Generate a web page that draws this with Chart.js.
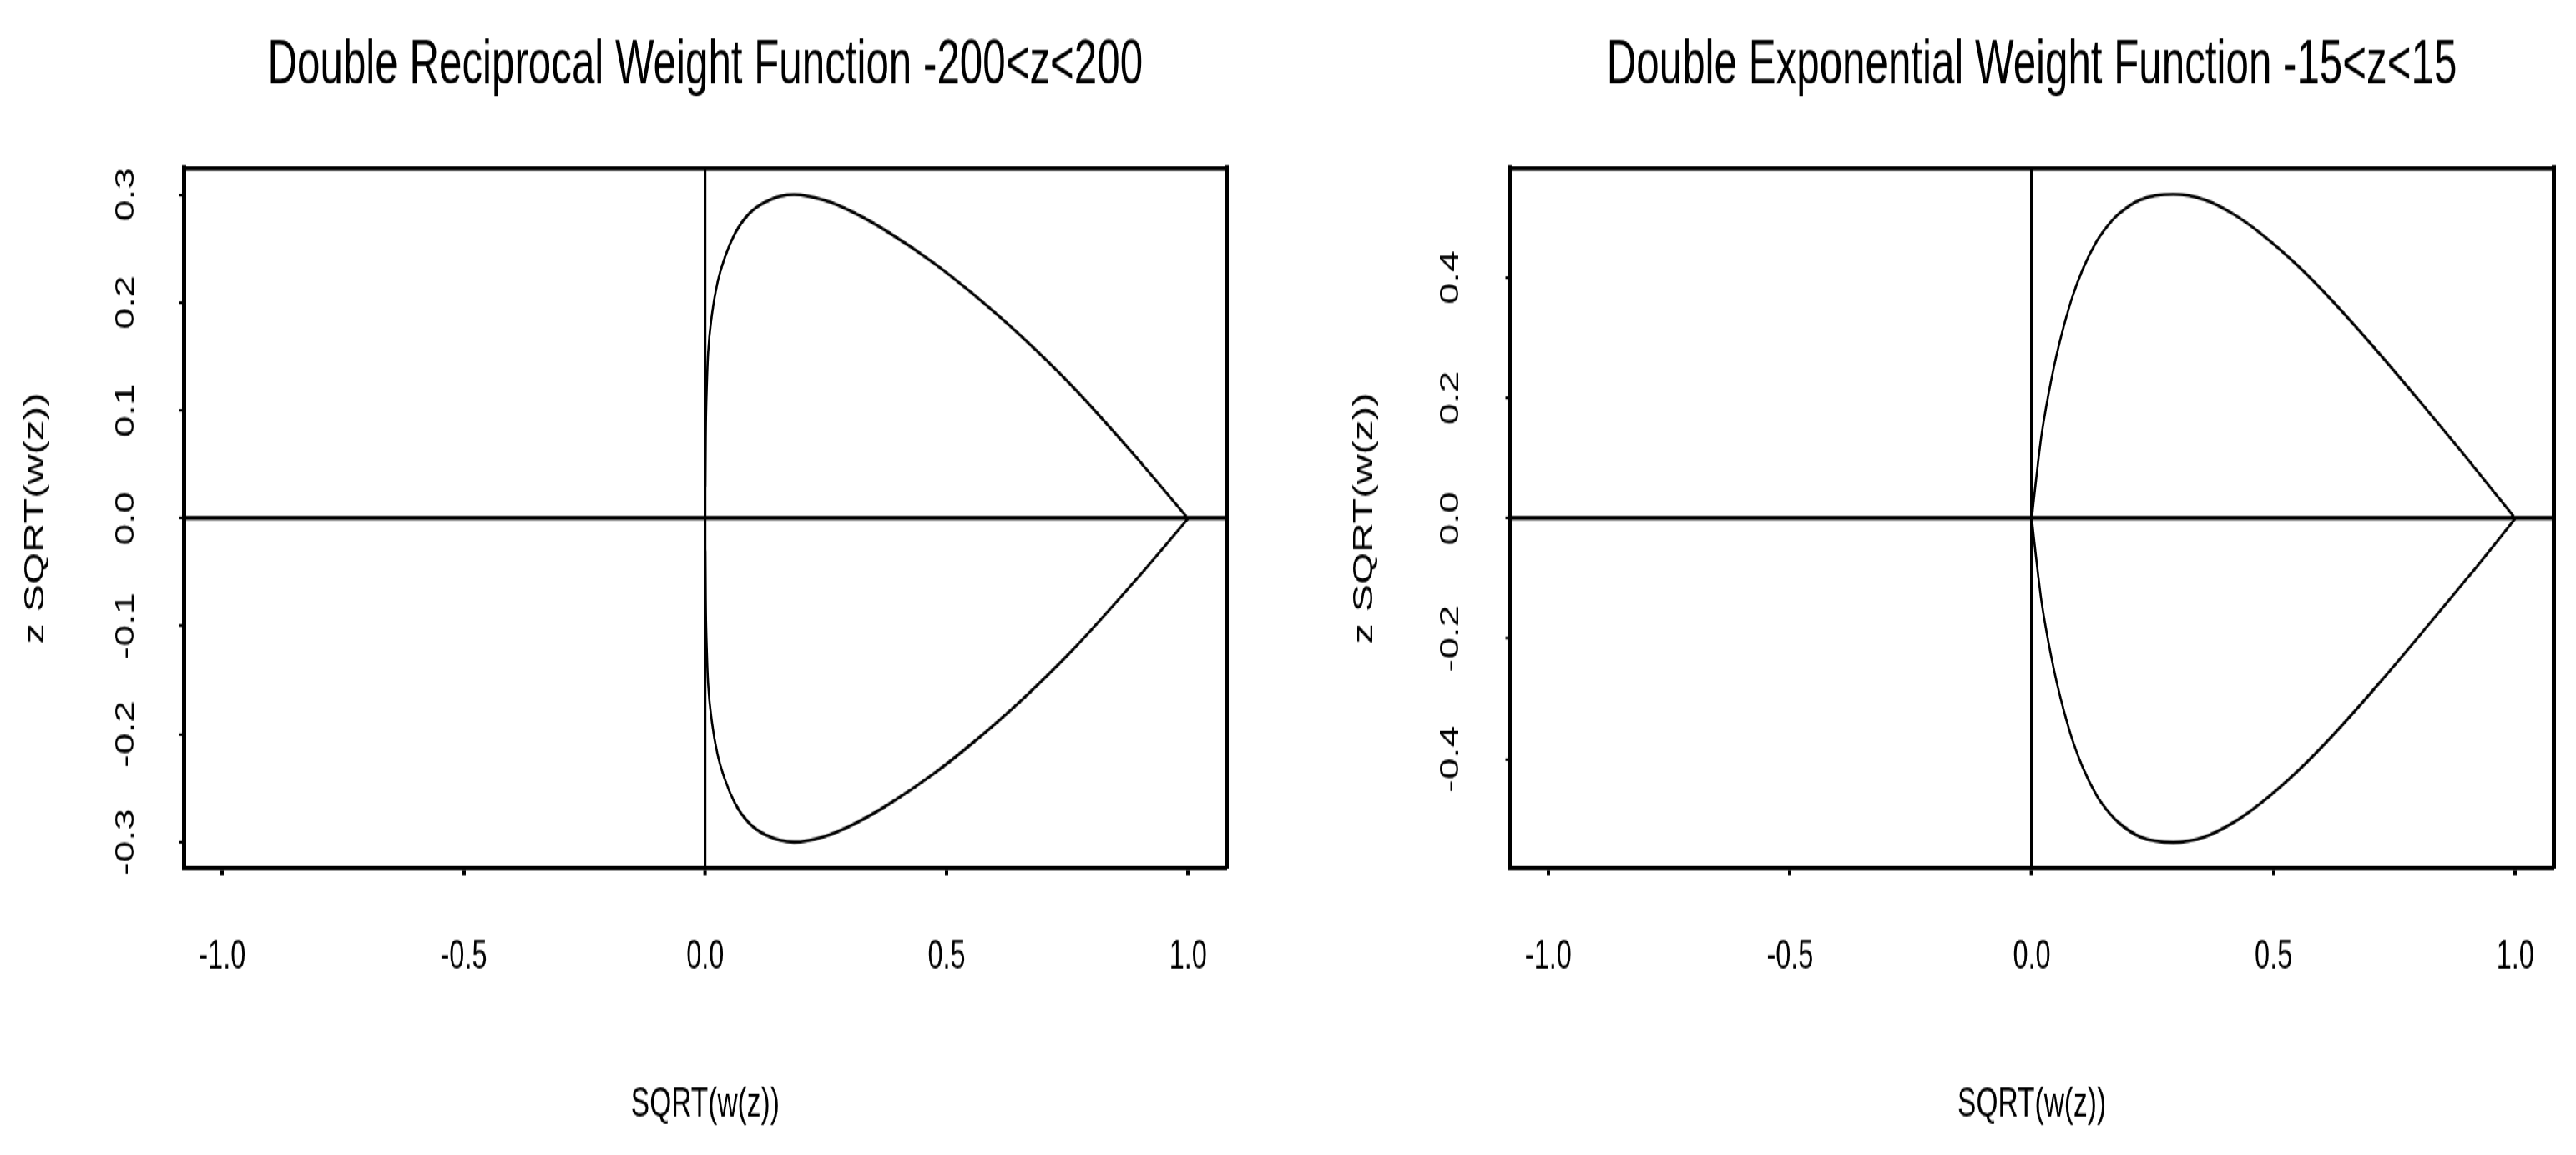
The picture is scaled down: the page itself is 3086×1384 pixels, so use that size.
<!DOCTYPE html>
<html>
<head>
<meta charset="utf-8">
<title>Weight functions</title>
<script src="https://cdn.jsdelivr.net/npm/chart.js@4.4.1/dist/chart.umd.min.js"></script>
<style>
  html, body { margin: 0; padding: 0; background: #ffffff; overflow: hidden; }
  #wrap { position: absolute; left: 0; top: 0; width: 3086px; height: 923px; transform-origin: 0 0; }
  #wrap canvas { position: absolute; top: 0; }
</style>
</head>
<body>
<div id="wrap">
  <canvas id="c1" width="1543" height="923" style="left:0px;width:1543px;height:923px"></canvas>
  <canvas id="c2" width="1543" height="923" style="left:1543px;width:1543px;height:923px"></canvas>
</div>
<script>
// ---------------- data ----------------
const xTickValues = [-1, -0.5, 0, 0.5, 1];
const xTickLabels = ['-1.0', '-0.5', '0.0', '0.5', '1.0'];
const xRange = [-1.08, 1.08];
const xAxisTitle = 'SQRT(w(z))';
const yAxisTitle = 'z SQRT(w(z))';

const recipTitle = 'Double Reciprocal Weight Function -200<z<200';
const recipYRange = [-0.324, 0.324];
const recipYTickValues = [-0.3, -0.2, -0.1, 0, 0.1, 0.2, 0.3];
const recipYTickLabels = ['-0.3', '-0.2', '-0.1', '0.0', '0.1', '0.2', '0.3'];
const recipUpperX = [0.0002, 0.001, 0.0036, 0.0060, 0.0140, 0.025, 0.040, 0.0615, 0.090, 0.127, 0.184, 0.249, 0.307, 0.380, 0.474, 0.553, 0.655, 0.760, 0.890, 1.000];
const recipUpperY = [0.030, 0.0755, 0.127, 0.153, 0.189, 0.2176, 0.241, 0.264, 0.282, 0.2938, 0.300, 0.2945, 0.2835, 0.2650, 0.2365, 0.2085, 0.1685, 0.1225, 0.058, 0.000];
const recipLowerX = [0.0002, 0.001, 0.0036, 0.0060, 0.0140, 0.025, 0.040, 0.0615, 0.090, 0.127, 0.184, 0.249, 0.307, 0.380, 0.474, 0.553, 0.655, 0.760, 0.890, 1.000];
const recipLowerY = [-0.030, -0.0755, -0.127, -0.153, -0.189, -0.2176, -0.241, -0.264, -0.282, -0.2938, -0.300, -0.2945, -0.2835, -0.2650, -0.2365, -0.2085, -0.1685, -0.1225, -0.058, -0.000];

const expTitle = 'Double Exponential Weight Function -15<z<15';
const expYRange = [-0.5805, 0.5805];
const expYTickValues = [-0.4, -0.2, 0, 0.2, 0.4];
const expYTickLabels = ['-0.4', '-0.2', '0.0', '0.2', '0.4'];
const expUpperX = [0.000, 0.0057, 0.0123, 0.0195, 0.0289, 0.0397, 0.0520, 0.0665, 0.0835, 0.105, 0.134, 0.160, 0.180, 0.224, 0.293, 0.358, 0.416, 0.4736, 0.553, 0.622, 0.7195, 0.817, 0.9075, 1.000];
const expUpperY = [0.000, 0.0426, 0.0889, 0.135, 0.1815, 0.2278, 0.274, 0.320, 0.3667, 0.413, 0.460, 0.489, 0.5055, 0.5288, 0.538, 0.5288, 0.5056, 0.473, 0.4174, 0.3608, 0.2730, 0.1804, 0.0926, 0.000];
const expLowerX = [0.000, 0.0057, 0.0123, 0.0195, 0.0289, 0.0397, 0.0520, 0.0665, 0.0835, 0.105, 0.134, 0.160, 0.180, 0.224, 0.293, 0.358, 0.416, 0.4736, 0.553, 0.622, 0.7195, 0.817, 0.9075, 1.000];
const expLowerY = [-0.000, -0.0426, -0.0889, -0.135, -0.1815, -0.2278, -0.274, -0.320, -0.3667, -0.413, -0.460, -0.489, -0.5055, -0.5288, -0.538, -0.5288, -0.5056, -0.473, -0.4174, -0.3608, -0.2730, -0.1804, -0.0926, -0.000];

// ---------------- presentation ----------------
const CANVAS_H = 923;
const STRETCH = 1384 / CANVAS_H;   // the original figure is stretched vertically
document.getElementById('wrap').style.transform = 'scaleY(' + STRETCH + ')';

const FONT = "'Liberation Sans', Arial, Helvetica, sans-serif";
const BLACK = '#000000';
const NONE = 'rgba(0,0,0,0)';

function pts(xs, ys) { return xs.map((x, i) => ({ x: x, y: ys[i] })); }

function makeChart(id, spec) {
  const L = spec.layout;
  return new Chart(document.getElementById(id), {
    type: 'scatter',
    data: {
      datasets: [
        { data: pts(spec.upperX, spec.upperY), xAxisID: 'x', yAxisID: 'y' },
        { data: pts(spec.lowerX, spec.lowerY), xAxisID: 'x', yAxisID: 'y' }
      ].map(d => Object.assign(d, {
        showLine: true, borderColor: BLACK, borderWidth: 2.6, pointRadius: 0,
        pointHoverRadius: 0, cubicInterpolationMode: 'monotone', fill: false,
        borderJoinStyle: 'round', borderCapStyle: 'round'
      }))
    },
    options: {
      responsive: false, maintainAspectRatio: false, animation: false,
      devicePixelRatio: 1, events: [],
      layout: { padding: 0 },
      plugins: {
        legend: { display: false },
        tooltip: { enabled: false },
        title: {
          display: true, text: spec.title, fullSize: false, color: BLACK,
          font: { family: FONT, size: 49.3, weight: 'normal', lineHeight: 1.2 },
          padding: { top: 23.7, bottom: 0 }
        }
      },
      scales: {
        x: {
          type: 'linear', position: 'bottom', min: xRange[0], max: xRange[1],
          afterBuildTicks: s => { s.ticks = xTickValues.map(v => ({ value: v })); },
          afterFit: s => { s.height = L.xHeight; },
          ticks: {
            autoSkip: false, minRotation: 0, maxRotation: 0, padding: 46.2, color: BLACK,
            font: { family: FONT, size: 32.5, weight: 'normal' },
            callback: (v, i) => xTickLabels[i]
          },
          grid: {
            display: true, drawOnChartArea: true, drawTicks: true, tickLength: 6,
            tickWidth: 4, tickColor: BLACK,
            color: c => (c.tick && c.tick.value === 0) ? BLACK : NONE,
            lineWidth: c => (c.tick && c.tick.value === 0) ? 3.2 : 0
          },
          border: { display: true, color: BLACK, width: 3.5 },
          title: {
            display: true, text: xAxisTitle, color: BLACK,
            font: { family: FONT, size: 33.5, weight: 'normal', lineHeight: 1.2 },
            padding: { top: 0, bottom: 20.6 }
          }
        },
        y: {
          type: 'linear', position: 'left', min: spec.yRange[0], max: spec.yRange[1],
          afterBuildTicks: s => { s.ticks = spec.yTickValues.map(v => ({ value: v })); },
          afterFit: s => { s.width = L.yWidth; },
          ticks: {
            autoSkip: false, minRotation: 90, maxRotation: 90, crossAlign: 'center',
            padding: L.yLabelPad, color: BLACK,
            font: { family: FONT, size: 31, weight: 'normal' },
            callback: (v, i) => spec.yTickLabels[i]
          },
          grid: {
            display: true, drawOnChartArea: true, drawTicks: true, tickLength: 5,
            tickWidth: 2.2, tickColor: BLACK,
            color: c => (c.tick && c.tick.value === 0) ? BLACK : NONE,
            lineWidth: c => (c.tick && c.tick.value === 0) ? 3.6 : 0
          },
          border: { display: true, color: BLACK, width: 5 },
          title: {
            display: true, text: yAxisTitle, color: BLACK,
            font: { family: FONT, size: 33, weight: 'normal', lineHeight: 1.2 },
            padding: { top: L.yTitlePad, bottom: 0 }
          }
        },
        x2: {
          type: 'linear', position: 'top', min: xRange[0], max: xRange[1], display: true,
          afterFit: s => { s.height = L.x2Height; },
          ticks: { display: false }, grid: { display: false, drawTicks: false },
          border: { display: true, color: BLACK, width: 3.5 }
        },
        y2: {
          type: 'linear', position: 'right', min: spec.yRange[0], max: spec.yRange[1], display: true,
          afterFit: s => { s.width = L.y2Width; },
          ticks: { display: false }, grid: { display: false, drawTicks: false },
          border: { display: true, color: BLACK, width: 5 }
        }
      }
    }
  });
}

makeChart('c1', {
  title: recipTitle, yRange: recipYRange,
  yTickValues: recipYTickValues, yTickLabels: recipYTickLabels,
  upperX: recipUpperX, upperY: recipUpperY, lowerX: recipLowerX, lowerY: recipLowerY,
  layout: { yWidth: 220, y2Width: 73.4, x2Height: 52.0, xHeight: 229.4, yLabelPad: 36.8, yTitlePad: 23 }
});

makeChart('c2', {
  title: expTitle, yRange: expYRange,
  yTickValues: expYTickValues, yTickLabels: expYTickLabels,
  upperX: expUpperX, upperY: expUpperY, lowerX: expLowerX, lowerY: expLowerY,
  layout: { yWidth: 265.5, y2Width: 26.4, x2Height: 52.0, xHeight: 229.4, yLabelPad: 38.8, yTitlePad: 72 }
});
</script>
</body>
</html>
